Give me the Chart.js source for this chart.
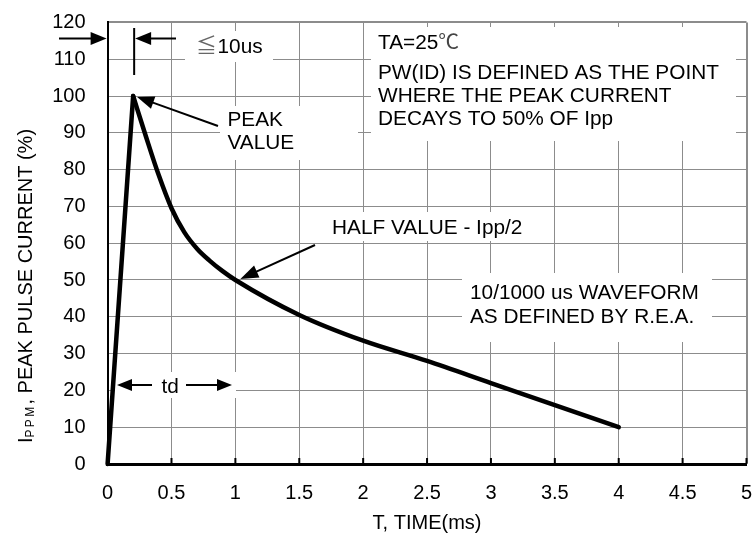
<!DOCTYPE html>
<html><head><meta charset="utf-8">
<script src="https://cdn.jsdelivr.net/npm/chart.js@4.4.1/dist/chart.umd.min.js"></script>
<style>html,body{margin:0;padding:0;background:#fff}#wrap{width:756px;height:544px}</style>
</head><body><div id="wrap"><canvas id="c" width="756" height="544"></canvas></div>
<script>
// ---- data ----
const riseTime = [0, 0.2];
const riseCurrent = [0, 100];
const decayTime = [0.2, 0.3, 0.4, 0.5, 0.6, 0.7, 0.8, 0.9, 1.0, 1.5, 2.0, 2.5, 3.0, 3.5, 4.0];
const decayCurrent = [100, 89, 78.5, 69.5, 63, 58.5, 55.2, 52.4, 50, 40.5, 33.5, 28, 22, 16, 10];
const xTicks = [0, 0.5, 1, 1.5, 2, 2.5, 3, 3.5, 4, 4.5, 5];
const yTicks = [0, 10, 20, 30, 40, 50, 60, 70, 80, 90, 100, 110, 120];

const FONT = '"Liberation Sans", Arial, Helvetica, sans-serif';
const CJK = '"Noto Sans CJK JP", "Noto Sans CJK SC", sans-serif';
const STRETCH = 1.04;

function txt(ctx, s, x, cy, opts = {}) {
  const size = opts.size || 20;
  ctx.save();
  ctx.font = size + 'px ' + (opts.family || FONT);
  ctx.fillStyle = opts.color || '#000';
  ctx.textBaseline = 'alphabetic';
  ctx.textAlign = 'left';
  ctx.translate(x, cy + size * 0.716 / 2);
  ctx.scale(STRETCH, 1);
  ctx.fillText(s, 0, 0);
  const w = ctx.measureText(s).width * STRETCH;
  ctx.restore();
  return w;
}
function arrow(ctx, x1, y1, x2, y2, headLen = 15, headW = 12, lw = 2) {
  const a = Math.atan2(y2 - y1, x2 - x1);
  const bx = x2 - headLen * Math.cos(a), by = y2 - headLen * Math.sin(a);
  ctx.save();
  ctx.strokeStyle = '#000'; ctx.fillStyle = '#000'; ctx.lineWidth = lw;
  ctx.beginPath(); ctx.moveTo(x1, y1); ctx.lineTo(bx + Math.cos(a), by + Math.sin(a)); ctx.stroke();
  ctx.beginPath(); ctx.moveTo(x2, y2);
  ctx.lineTo(bx + headW / 2 * Math.sin(a), by - headW / 2 * Math.cos(a));
  ctx.lineTo(bx - headW / 2 * Math.sin(a), by + headW / 2 * Math.cos(a));
  ctx.closePath(); ctx.fill();
  ctx.restore();
}

const masks = [
  [185, 31, 273, 62],
  [220, 106, 358, 160],
  [371, 27, 736, 141],
  [324, 212, 533, 241],
  [462, 273, 712, 342],
  [115, 372, 236, 398]
];

const annotationPlugin = {
  id: 'annot',
  beforeDatasetsDraw(chart) {
    const ctx = chart.ctx;
    ctx.save();
    ctx.fillStyle = '#fff';
    masks.forEach(m => ctx.fillRect(m[0], m[1], m[2] - m[0], m[3] - m[1]));
    ctx.restore();
  },
  afterDatasetsDraw(chart) {
    const ctx = chart.ctx;
    const xs = chart.scales.x, ys = chart.scales.y;
    const x0 = xs.getPixelForValue(0), yB = ys.getPixelForValue(0);
    const xPeak = xs.getPixelForValue(riseTime[1]);
    const yPeak = ys.getPixelForValue(riseCurrent[1]);

    // bottom tick marks
    ctx.save();
    ctx.strokeStyle = '#000'; ctx.lineWidth = 2;
    xTicks.slice(1).forEach(v => {
      const p = xs.getPixelForValue(v);
      ctx.beginPath(); ctx.moveTo(p, yB); ctx.lineTo(p, yB - 6); ctx.stroke();
    });
    ctx.restore();

    // <=10us marker
    ctx.save();
    ctx.strokeStyle = '#000'; ctx.lineWidth = 2;
    ctx.beginPath(); ctx.moveTo(xPeak + 1, 28); ctx.lineTo(xPeak + 1, 75); ctx.stroke();
    ctx.restore();
    arrow(ctx, 59, 38.5, x0 - 1, 38.5, 16, 13);
    arrow(ctx, 176, 38.5, xPeak + 2, 38.5, 16, 13);
    txt(ctx, '\u2266', 196, 46, { family: CJK, color: '#666' });
    txt(ctx, '10us', 217.5, 46);

    // peak value
    txt(ctx, 'PEAK', 227.5, 118.5);
    txt(ctx, 'VALUE', 227.5, 141.5);
    arrow(ctx, 218, 126, xPeak + 4, yPeak + 1, 17, 13);

    // TA block
    const w = txt(ctx, 'TA=25', 378, 42);
    txt(ctx, '\u2103', 378 + w, 42, { family: CJK, color: '#444' });
    txt(ctx, 'PW(ID) IS DEFINED AS THE POINT', 378, 72);
    txt(ctx, 'WHERE THE PEAK CURRENT', 378, 95);
    txt(ctx, 'DECAYS TO 50% OF Ipp', 378, 118);

    // half value
    txt(ctx, 'HALF VALUE - Ipp/2', 332, 227);
    arrow(ctx, 315, 245, xs.getPixelForValue(1.0) + 5, ys.getPixelForValue(50) - 1, 18, 13);

    // waveform text
    txt(ctx, '10/1000 us WAVEFORM', 470, 292);
    txt(ctx, 'AS DEFINED BY R.E.A.', 470, 316);

    // td
    arrow(ctx, 152, 385, 117, 385, 15, 12);
    txt(ctx, 'td', 161.5, 386);
    arrow(ctx, 186, 385, 232, 385, 15, 12);

    // y axis title with subscript
    ctx.save();
    ctx.translate(31.5, 443);
    ctx.rotate(-Math.PI / 2);
    ctx.fillStyle = '#000';
    ctx.textBaseline = 'alphabetic';
    ctx.textAlign = 'left';
    ctx.font = '20px ' + FONT;
    let x = 0;
    ctx.fillText('I', x, 0); x += ctx.measureText('I').width;
    ctx.font = '12px ' + FONT;
    for (const ch of 'PPM') { ctx.fillText(ch, x, 2.5); x += ctx.measureText(ch).width + 2.3; }
    ctx.font = '20px ' + FONT;
    ctx.fillText(', PEAK PULSE CURRENT (%)', x, 0);
    ctx.restore();
  }
};

const toPts = (xa, ya) => xa.map((t, i) => ({ x: t, y: ya[i] }));
const gridColor = '#8c8c8c';

new Chart(document.getElementById('c'), {
  type: 'scatter',
  data: {
    datasets: [
      { data: toPts(riseTime, riseCurrent), showLine: true, borderColor: '#000', borderWidth: 4.5,
        pointRadius: 0, tension: 0, borderCapStyle: 'round', clip: false },
      { data: toPts(decayTime, decayCurrent), showLine: true, borderColor: '#000', borderWidth: 4.5,
        pointRadius: 0, cubicInterpolationMode: 'monotone', borderCapStyle: 'round', clip: false }
    ]
  },
  options: {
    responsive: false,
    animation: false,
    layout: { padding: { left: 0, right: 9.5, top: 22.4, bottom: 0 } },
    plugins: { legend: { display: false }, tooltip: { enabled: false } },
    scales: {
      x: {
        type: 'linear', min: 0, max: 5,
        afterBuildTicks: s => { s.ticks = xTicks.map(v => ({ value: v })); },
        afterFit: s => { s.height = 80; s.paddingLeft = 0; s.paddingRight = 0; s.paddingTop = 0; s.paddingBottom = 0; },
        ticks: { color: '#000', font: { family: FONT, size: 20 }, padding: 17, maxRotation: 0,
                 autoSkip: false, callback: v => String(v) },
        grid: { color: gridColor, lineWidth: c => (c.index === xTicks.length - 1 ? 2 : 1), drawTicks: false },
        border: { color: '#000', width: 3 },
        title: { display: true, text: 'T, TIME(ms)', color: '#000', font: { family: FONT, size: 20 },
                 padding: { top: 0, bottom: 9 } }
      },
      y: {
        type: 'linear', min: 0, max: 120,
        afterBuildTicks: s => { s.ticks = yTicks.map(v => ({ value: v })); },
        afterFit: s => { s.width = 107.6; s.paddingLeft = 0; s.paddingRight = 0; s.paddingTop = 0; s.paddingBottom = 0; },
        ticks: { color: '#000', font: { family: FONT, size: 20 }, padding: 22, autoSkip: false,
                 callback: v => String(v) },
        grid: { color: gridColor, lineWidth: c => (c.index === yTicks.length - 1 ? 2 : 1), drawTicks: false },
        border: { color: '#000', width: 2 },
        title: { display: false }
      }
    }
  },
  plugins: [annotationPlugin]
});
</script>
</body></html>
